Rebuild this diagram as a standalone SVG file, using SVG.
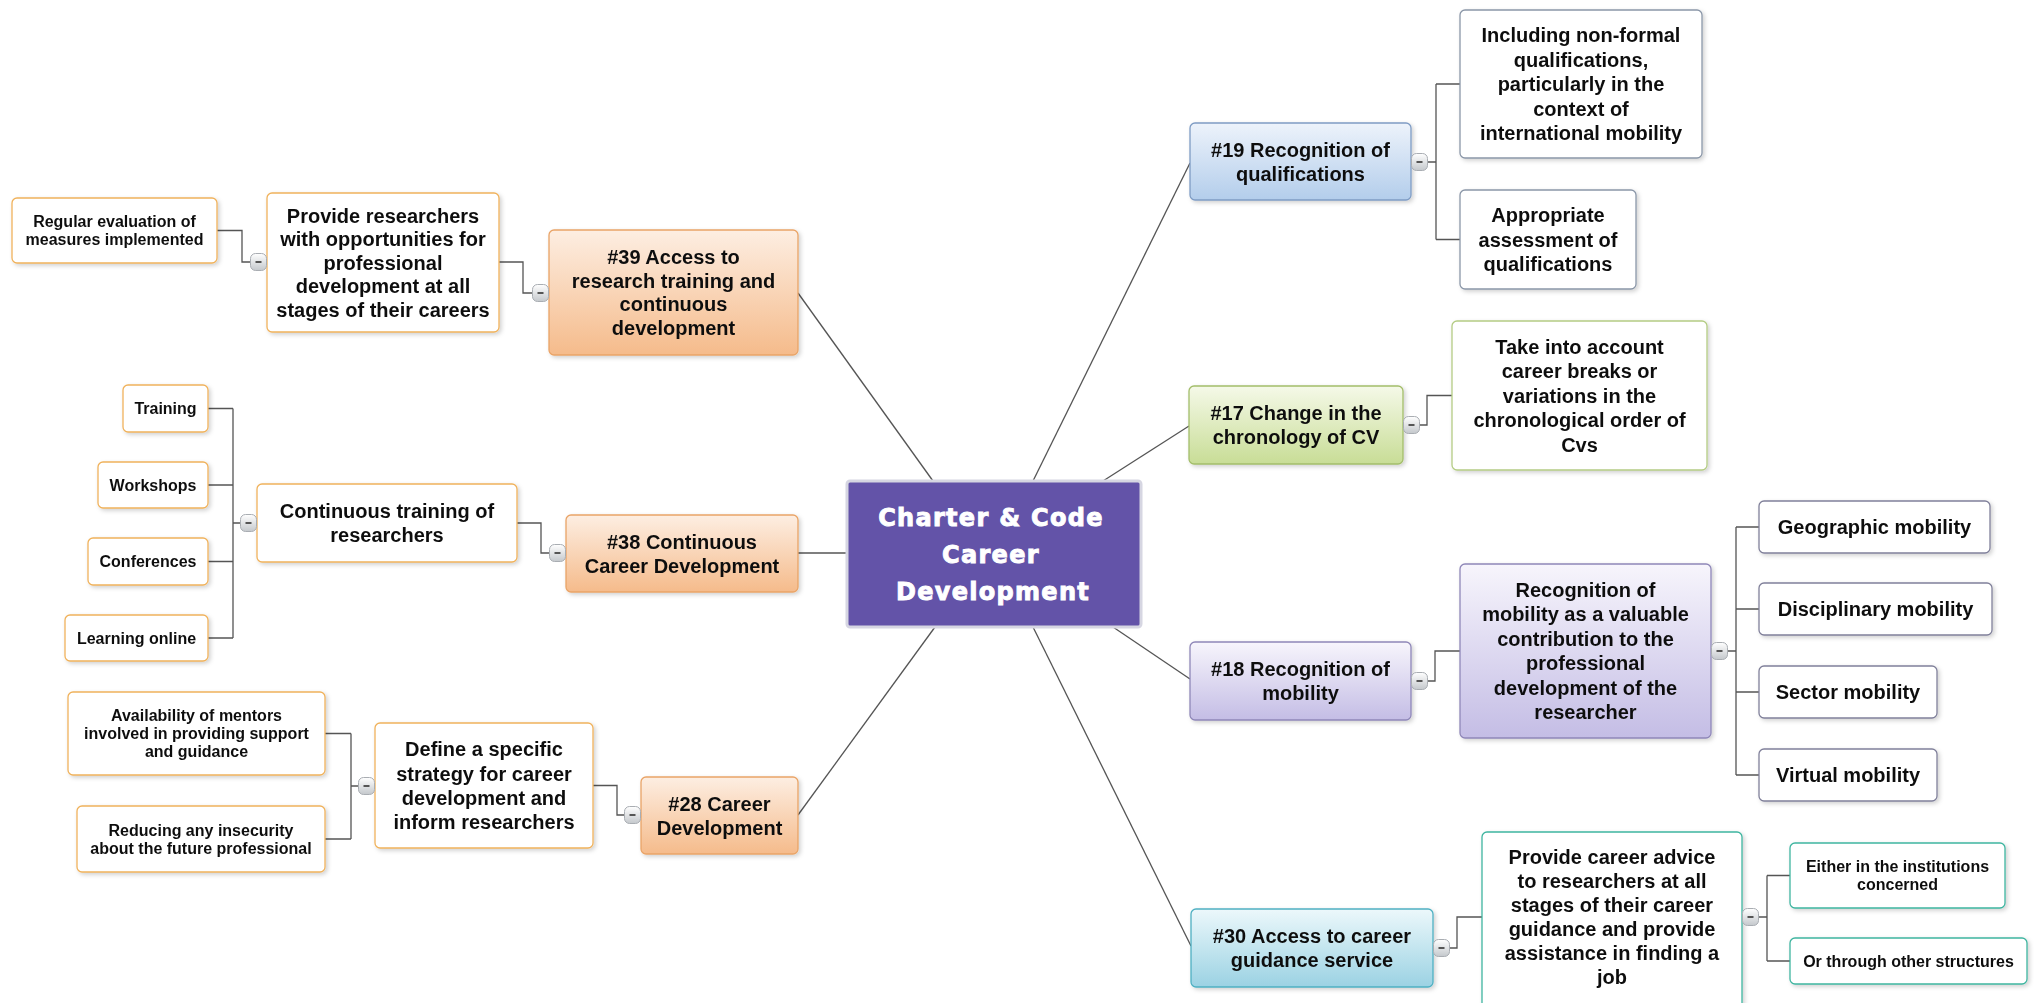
<svg xmlns="http://www.w3.org/2000/svg" width="2035" height="1003" viewBox="0 0 2035 1003">
<defs>
<filter id="sh" x="-10%" y="-10%" width="130%" height="130%"><feDropShadow dx="2" dy="2" stdDeviation="2" flood-color="#000" flood-opacity="0.18"/></filter>
<linearGradient id="gOr" x1="0" y1="0" x2="0" y2="1"><stop offset="0" stop-color="#fdeee2"/><stop offset="1" stop-color="#f5bb8b"/></linearGradient>
<linearGradient id="gBl" x1="0" y1="0" x2="0" y2="1"><stop offset="0" stop-color="#edf3fb"/><stop offset="1" stop-color="#b3cdeb"/></linearGradient>
<linearGradient id="gGr" x1="0" y1="0" x2="0" y2="1"><stop offset="0" stop-color="#f5f9e8"/><stop offset="1" stop-color="#c8dd96"/></linearGradient>
<linearGradient id="gLv" x1="0" y1="0" x2="0" y2="1"><stop offset="0" stop-color="#f7f5fc"/><stop offset="1" stop-color="#c4bde5"/></linearGradient>
<linearGradient id="gCy" x1="0" y1="0" x2="0" y2="1"><stop offset="0" stop-color="#ecf8fb"/><stop offset="1" stop-color="#9bd2e3"/></linearGradient>
<linearGradient id="gBt" x1="0" y1="0" x2="0" y2="1"><stop offset="0" stop-color="#ffffff"/><stop offset="1" stop-color="#c4c8cc"/></linearGradient>
<symbol id="btn" viewBox="0 0 17 18" width="17" height="18"><rect x="0.5" y="0.5" width="16" height="17" rx="5" fill="url(#gBt)" stroke="#a9adb2"/><rect x="5.5" y="8" width="6" height="2" fill="#555"/></symbol>
</defs>
<style>
.n{filter:url(#sh)}
.or{fill:url(#gOr);stroke:#e9a467;stroke-width:1.3}
.ow{fill:#fff;stroke:#f0b25c;stroke-width:1.3}
.bl{fill:url(#gBl);stroke:#7f9cc4;stroke-width:1.3}
.bw{fill:#fff;stroke:#8b97a8;stroke-width:1.3}
.gr{fill:url(#gGr);stroke:#a3bd6a;stroke-width:1.3}
.gw{fill:#fff;stroke:#b4cc84;stroke-width:1.3}
.lv{fill:url(#gLv);stroke:#8f87b8;stroke-width:1.3}
.lw{fill:#fff;stroke:#80809a;stroke-width:1.3}
.cy{fill:url(#gCy);stroke:#4fb0c2;stroke-width:1.3}
.cw{fill:#fff;stroke:#3fb5a0;stroke-width:1.3}
text{font-family:"Liberation Sans",Arial,sans-serif;font-weight:bold;fill:#111;text-anchor:middle}
.t20{font-size:20px}
.t16{font-size:16px}
.c{font-family:"DejaVu Sans","Liberation Sans",sans-serif;font-size:24px;letter-spacing:1.3px;fill:#fff;stroke:#fff;stroke-width:0.9px}
.ln{fill:none;stroke:#555;stroke-width:1.3}
</style>

<g id="connectors" class="ln">
<path d="M798,293 L933,481"/>
<path d="M798,553 L847,553"/>
<path d="M798,815 L935,627"/>
<path d="M1190,163 L1033,481"/>
<path d="M1189,426 L1103,481"/>
<path d="M1113,627 L1190,679"/>
<path d="M1033,627 L1191,946"/>
<path d="M217,230.5 H242 V262 H250"/>
<path d="M499,262 H523 V293 H532"/>
<path d="M208,408.5 H233 M208,485 H233 M208,561.5 H233 M208,638 H233 M233,408.5 V638 M233,523 H240"/>
<path d="M517,523 H541 V553 H549"/>
<path d="M325,733.5 H351 M325,839 H351 M351,733.5 V839 M351,786 H358"/>
<path d="M593,785.5 H617 V815 H624"/>
<path d="M1428,162 H1436 M1436,84 V239.5 M1436,84 H1460 M1436,239.5 H1460"/>
<path d="M1420,425 H1427 V395.5 H1452"/>
<path d="M1428,681 H1435 V651 H1460"/>
<path d="M1728,651 H1736 M1736,527 V775 M1736,527 H1759 M1736,609 H1759 M1736,692 H1759 M1736,775 H1759"/>
<path d="M1450,948 H1457 V917 H1482"/>
<path d="M1759,917 H1767 M1767,875.5 V961 M1767,875.5 H1790 M1767,961 H1790"/>
</g>

<g id="center">
<rect x="847" y="481" width="294" height="146" rx="3" fill="#6353a8" stroke="#d6d6e2" stroke-width="3"/>
<text class="c" x="991" y="526">Charter &amp; Code</text>
<text class="c" x="991" y="563">Career</text>
<text class="c" x="993" y="600">Development</text>
</g>

<g id="n-regular" class="n"><rect class="ow" x="12" y="198" width="205" height="65" rx="5"/>
<text class="t16" x="114.5" y="227">Regular evaluation of</text><text class="t16" x="114.5" y="245">measures implemented</text></g>

<g id="n-provide-researchers" class="n"><rect class="ow" x="267" y="193" width="232" height="139" rx="5"/>
<text class="t20" x="383" y="222.5">Provide researchers</text><text class="t20" x="383" y="246">with opportunities for</text><text class="t20" x="383" y="269.5">professional</text><text class="t20" x="383" y="293">development at all</text><text class="t20" x="383" y="316.5">stages of their careers</text></g>
<use href="#btn" x="250" y="253"/>

<g id="n-39" class="n"><rect class="or" x="549" y="230" width="249" height="125" rx="5"/>
<text class="t20" x="673.5" y="264">#39 Access to</text><text class="t20" x="673.5" y="287.5">research training and</text><text class="t20" x="673.5" y="311">continuous</text><text class="t20" x="673.5" y="335">development</text></g>
<use href="#btn" x="532" y="284"/>

<g id="n-training" class="n"><rect class="ow" x="123" y="385" width="85" height="47" rx="5"/><text class="t16" x="165.5" y="414">Training</text></g>
<g id="n-workshops" class="n"><rect class="ow" x="98" y="462" width="110" height="46" rx="5"/><text class="t16" x="153" y="490.5">Workshops</text></g>
<g id="n-conferences" class="n"><rect class="ow" x="88" y="538" width="120" height="47" rx="5"/><text class="t16" x="148" y="567">Conferences</text></g>
<g id="n-learning" class="n"><rect class="ow" x="65" y="615" width="143" height="46" rx="5"/><text class="t16" x="136.5" y="643.5">Learning online</text></g>

<g id="n-continuous-training" class="n"><rect class="ow" x="257" y="484" width="260" height="78" rx="5"/>
<text class="t20" x="387" y="518">Continuous training of</text><text class="t20" x="387" y="542">researchers</text></g>
<use href="#btn" x="240" y="514"/>

<g id="n-38" class="n"><rect class="or" x="566" y="515" width="232" height="77" rx="5"/>
<text class="t20" x="682" y="548.5">#38 Continuous</text><text class="t20" x="682" y="572.5">Career Development</text></g>
<use href="#btn" x="549" y="544"/>

<g id="n-availability" class="n"><rect class="ow" x="68" y="692" width="257" height="83" rx="5"/>
<text class="t16" x="196.5" y="721">Availability of mentors</text><text class="t16" x="196.5" y="739">involved in providing support</text><text class="t16" x="196.5" y="757">and guidance</text></g>

<g id="n-reducing" class="n"><rect class="ow" x="77" y="806" width="248" height="66" rx="5"/>
<text class="t16" x="201" y="836">Reducing any insecurity</text><text class="t16" x="201" y="854">about the future professional</text></g>

<g id="n-define" class="n"><rect class="ow" x="375" y="723" width="218" height="125" rx="5"/>
<text class="t20" x="484" y="756">Define a specific</text><text class="t20" x="484" y="780.5">strategy for career</text><text class="t20" x="484" y="805">development and</text><text class="t20" x="484" y="829">inform researchers</text></g>
<use href="#btn" x="358" y="777"/>

<g id="n-28" class="n"><rect class="or" x="641" y="777" width="157" height="77" rx="5"/>
<text class="t20" x="719.5" y="810.5">#28 Career</text><text class="t20" x="719.5" y="834.5">Development</text></g>
<use href="#btn" x="624" y="806"/>

<g id="n-19" class="n"><rect class="bl" x="1190" y="123" width="221" height="77" rx="5"/>
<text class="t20" x="1300.5" y="156.5">#19 Recognition of</text><text class="t20" x="1300.5" y="180.5">qualifications</text></g>
<use href="#btn" x="1411" y="153"/>

<g id="n-including" class="n"><rect class="bw" x="1460" y="10" width="242" height="148" rx="5"/>
<text class="t20" x="1581" y="42">Including non-formal</text><text class="t20" x="1581" y="66.5">qualifications,</text><text class="t20" x="1581" y="91">particularly in the</text><text class="t20" x="1581" y="115.5">context of</text><text class="t20" x="1581" y="140">international mobility</text></g>

<g id="n-appropriate" class="n"><rect class="bw" x="1460" y="190" width="176" height="99" rx="5"/>
<text class="t20" x="1548" y="222">Appropriate</text><text class="t20" x="1548" y="246.5">assessment of</text><text class="t20" x="1548" y="271">qualifications</text></g>

<g id="n-17" class="n"><rect class="gr" x="1189" y="386" width="214" height="78" rx="5"/>
<text class="t20" x="1296" y="420">#17 Change in the</text><text class="t20" x="1296" y="444">chronology of CV</text></g>
<use href="#btn" x="1403" y="416"/>

<g id="n-take" class="n"><rect class="gw" x="1452" y="321" width="255" height="149" rx="5"/>
<text class="t20" x="1579.5" y="353.5">Take into account</text><text class="t20" x="1579.5" y="378">career breaks or</text><text class="t20" x="1579.5" y="402.5">variations in the</text><text class="t20" x="1579.5" y="427">chronological order of</text><text class="t20" x="1579.5" y="451.5">Cvs</text></g>

<g id="n-18" class="n"><rect class="lv" x="1190" y="642" width="221" height="78" rx="5"/>
<text class="t20" x="1300.5" y="676">#18 Recognition of</text><text class="t20" x="1300.5" y="700">mobility</text></g>
<use href="#btn" x="1411" y="672"/>

<g id="n-recognition" class="n"><rect class="lv" x="1460" y="564" width="251" height="174" rx="5"/>
<text class="t20" x="1585.5" y="597">Recognition of</text><text class="t20" x="1585.5" y="621.4">mobility as a valuable</text><text class="t20" x="1585.5" y="645.8">contribution to the</text><text class="t20" x="1585.5" y="670.2">professional</text><text class="t20" x="1585.5" y="694.6">development of the</text><text class="t20" x="1585.5" y="719">researcher</text></g>
<use href="#btn" x="1711" y="642"/>

<g id="n-geographic" class="n"><rect class="lw" x="1759" y="501" width="231" height="52" rx="5"/><text class="t20" x="1874.5" y="534">Geographic mobility</text></g>
<g id="n-disciplinary" class="n"><rect class="lw" x="1759" y="583" width="233" height="52" rx="5"/><text class="t20" x="1875.5" y="616">Disciplinary mobility</text></g>
<g id="n-sector" class="n"><rect class="lw" x="1759" y="666" width="178" height="52" rx="5"/><text class="t20" x="1848" y="699">Sector mobility</text></g>
<g id="n-virtual" class="n"><rect class="lw" x="1759" y="749" width="178" height="52" rx="5"/><text class="t20" x="1848" y="782">Virtual mobility</text></g>

<g id="n-30" class="n"><rect class="cy" x="1191" y="909" width="242" height="78" rx="5"/>
<text class="t20" x="1312" y="943">#30 Access to career</text><text class="t20" x="1312" y="967">guidance service</text></g>
<use href="#btn" x="1433" y="939"/>

<g id="n-provide-career" class="n"><rect class="cw" x="1482" y="832" width="260" height="180" rx="5"/>
<text class="t20" x="1612" y="864">Provide career advice</text><text class="t20" x="1612" y="888">to researchers at all</text><text class="t20" x="1612" y="912">stages of their career</text><text class="t20" x="1612" y="936">guidance and provide</text><text class="t20" x="1612" y="960">assistance in finding a</text><text class="t20" x="1612" y="984">job</text></g>
<use href="#btn" x="1742" y="908"/>

<g id="n-either" class="n"><rect class="cw" x="1790" y="843" width="215" height="65" rx="5"/>
<text class="t16" x="1897.5" y="872">Either in the institutions</text><text class="t16" x="1897.5" y="890">concerned</text></g>
<g id="n-or" class="n"><rect class="cw" x="1790" y="938" width="237" height="46" rx="5"/>
<text class="t16" x="1908.5" y="966.5">Or through other structures</text></g>
</svg>
